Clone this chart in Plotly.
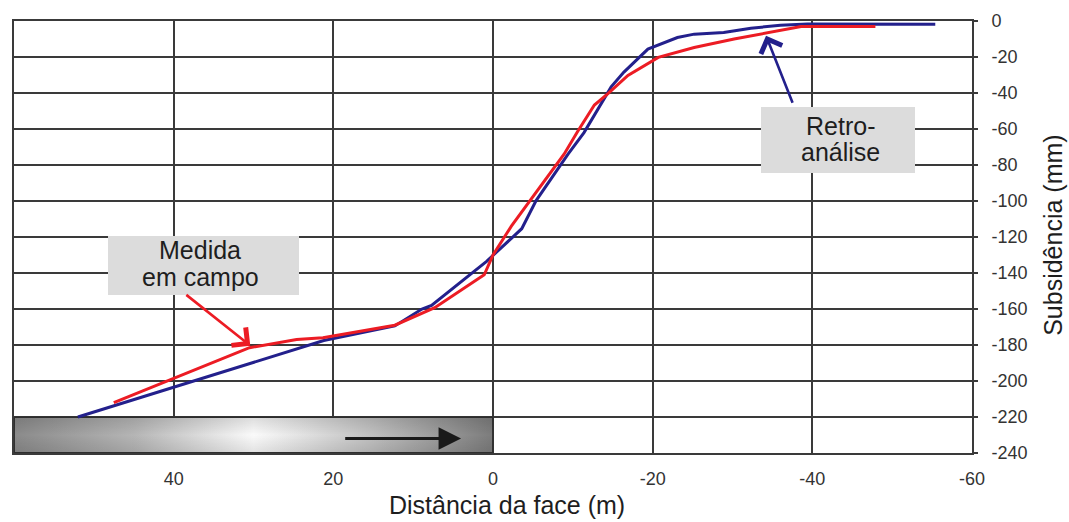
import plotly.graph_objects as go

# ---- data (distance from face in m, subsidence in mm) ----
retro_x = [52, 21.2, 12.3, 8.9, 7.7, 0.8, -3.6, -5.4, -9.4, -11.4, -14.8, -16.4,
           -19.4, -23.1, -25.2, -28.9, -32.3, -36.0, -39.4, -55.4]
retro_y = [-220, -177.5, -169.4, -160, -158, -133.5, -115.4, -99.8, -74, -62, -36.6, -28.4,
           -15.6, -9.2, -7.3, -6.4, -4.0, -2.4, -1.6, -1.8]

campo_x = [47.5, 40.0, 30.5, 24.6, 21.3, 12.3, 7.3, 1.1, 0.0, -2.3, -4.8, -8.9, -10.6,
           -12.7, -14.4, -16.9, -20.7, -25.2, -30.2, -34.4, -38.6, -47.9]
campo_y = [-212, -198.5, -181.5, -177, -176, -169, -159.3, -141, -130, -114, -99, -74, -61.4,
           -46.7, -40.3, -30.2, -20.2, -14.7, -10.0, -6.4, -3.1, -3.1]

# tunnel schematic (excavated zone, from 60 m to the face)
tunnel_x = [60, 0, 0, 60, 60]
tunnel_y = [-220, -220, -240, -240, -220]

x_ticks = [60, 40, 20, 0, -20, -40, -60]
x_ticklabels = ["", "40", "20", "0", "-20", "-40", "-60"]
y_ticks = [0, -20, -40, -60, -80, -100, -120, -140, -160, -180, -200, -220, -240]
y_ticklabels = ["0", "-20", "-40", "-60", "-80", "-100", "-120", "-140", "-160", "-180",
                "-200", "-220", "-240"]

FONT = "Liberation Sans, Arial, sans-serif"
GRID = "#3a3a3a"
TXT = "#1e1e1e"

W, H = 1069, 522
L, R, T, B = 11.5, 97, 15, 69
pw, ph = W - L - R, H - T - B


def px(xp):
    return (xp - L) / pw


def py(yp):
    return 1 - (yp - T) / ph


fig = go.Figure()

fig.add_trace(go.Scatter(
    x=tunnel_x, y=tunnel_y, mode="lines", fill="toself",
    line=dict(color="#333333", width=2),
    fillgradient=dict(type="horizontal",
                      colorscale=[[0, "#8a8a8a"], [0.25, "#b5b5b5"], [0.5, "#fafafa"],
                                  [0.75, "#bfbfbf"], [1, "#7c7c7c"]]),
    hoverinfo="skip", showlegend=False))
fig.add_trace(go.Scatter(
    x=tunnel_x, y=tunnel_y, mode="lines", fill="toself",
    line=dict(color="rgba(0,0,0,0)", width=0),
    fillgradient=dict(type="vertical",
                      colorscale=[[0, "rgba(0,0,0,0.10)"], [0.5, "rgba(0,0,0,0)"],
                                  [1, "rgba(0,0,0,0.12)"]]),
    hoverinfo="skip", showlegend=False))

fig.add_trace(go.Scatter(x=retro_x, y=retro_y, mode="lines", name="Retro-análise",
                         line=dict(color="#23208c", width=3), showlegend=False))
fig.add_trace(go.Scatter(x=campo_x, y=campo_y, mode="lines", name="Medida em campo",
                         line=dict(color="#ec1c24", width=3), showlegend=False))

lab_font = dict(family=FONT, size=25, color=TXT)
annotations = [
    # label boxes
    dict(x=px(201.5), y=py(262.5), text=" ", showarrow=False, bgcolor="#dcdcdc",
         width=191, height=59, borderwidth=0, borderpad=0),
    dict(x=px(838), y=py(136), text=" ", showarrow=False, bgcolor="#dcdcdc",
         width=154, height=66, borderwidth=0, borderpad=0),
    # label lines
    dict(x=px(198), y=py(247.5), text="Medida", showarrow=False, font=lab_font),
    dict(x=px(198), y=py(274.5), text="em campo", showarrow=False, font=lab_font),
    dict(x=px(840), y=py(121.5), text="Retro-", showarrow=False, font=lab_font),
    dict(x=px(840), y=py(147.5), text="análise", showarrow=False, font=lab_font),
    # axis titles
    dict(x=px(506), y=py(506), text="Distância da face (m)", showarrow=False,
         font=dict(family=FONT, size=25, color=TXT)),
    dict(x=px(1053), y=py(232), text="Subsidência (mm)", showarrow=False, textangle=-90,
         font=dict(family=FONT, size=25, color=TXT)),
]
for a in annotations:
    a.update(xref="paper", yref="paper", xanchor="center", yanchor="middle")

annotations += [
    # pointer arrows
    dict(x=30.4, y=-180.4, ax=38.6, ay=-151.5, xref="x", yref="y", axref="x", ayref="y",
         text="", showarrow=True, arrowhead=4, arrowsize=1.7, arrowwidth=2.6,
         arrowcolor="#ec1c24"),
    dict(x=-34.2, y=-8.2, ax=-37.6, ay=-46.3, xref="x", yref="y", axref="x", ayref="y",
         text="", showarrow=True, arrowhead=4, arrowsize=1.7, arrowwidth=2.6,
         arrowcolor="#23208c"),
    # advance direction arrow inside tunnel
    dict(x=4.0, y=-232, ax=18.7, ay=-232, xref="x", yref="y", axref="x", ayref="y",
         text="", showarrow=True, arrowhead=2, arrowsize=1.5, arrowwidth=3,
         arrowcolor="#1a1a1a"),
]

fig.update_layout(
    width=W, height=H,
    margin=dict(l=L, r=R, t=T, b=B, pad=0),
    paper_bgcolor="white", plot_bgcolor="white",
    font=dict(family=FONT, size=18, color="#333333"),
    annotations=annotations,
    showlegend=False,
)

fig.update_xaxes(
    range=[60, -60], tickvals=x_ticks, ticktext=x_ticklabels,
    showgrid=True, gridcolor=GRID, gridwidth=1.6,
    showline=True, linecolor=GRID, linewidth=2, mirror=True,
    ticks="", ticklabelstandoff=8, zeroline=False,
    tickfont=dict(family=FONT, size=18, color="#333333"),
)
fig.update_yaxes(
    range=[-240, 0], tickvals=y_ticks, ticktext=y_ticklabels, side="right",
    showgrid=True, gridcolor=GRID, gridwidth=1.6,
    showline=True, linecolor=GRID, linewidth=2, mirror=True,
    ticks="outside", ticklen=4, tickwidth=1.6, tickcolor=GRID,
    ticklabelstandoff=10, zeroline=False,
    tickfont=dict(family=FONT, size=18, color="#333333"),
)

fig.write_html("out.html")
